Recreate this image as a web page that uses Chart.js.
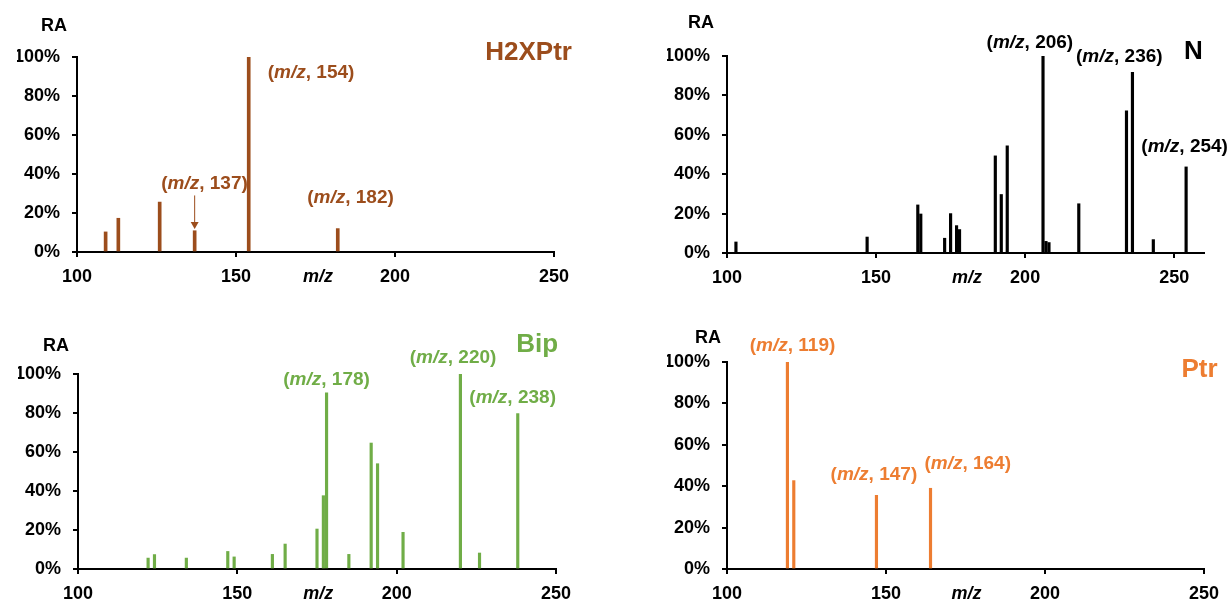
<!DOCTYPE html>
<html>
<head>
<meta charset="utf-8">
<script src="https://cdn.jsdelivr.net/npm/chart.js@4.4.1/dist/chart.umd.min.js"></script>
<style>
  html, body { margin: 0; background: #fff; }
  #wrap { position: relative; width: 1228px; height: 602px; }
  canvas { position: absolute; left: 0; top: 0; }
</style>
</head>
<body>
<div id="wrap">
  <canvas id="c1" width="1228" height="602"></canvas>
  <canvas id="c2" width="1228" height="602"></canvas>
  <canvas id="c3" width="1228" height="602"></canvas>
  <canvas id="c4" width="1228" height="602"></canvas>
</div>
<script>
// spectra (m/z, relative abundance %)
const h2xMz = [109, 113, 126, 137, 154, 182];
const h2xRA = [10.3, 17.3, 25.6, 10.9, 100, 12.0];

const nMz = [103, 147, 164, 165, 173, 175, 177, 178, 190, 192, 194, 206, 207, 208, 218, 234, 236, 243, 254];
const nRA = [5.6, 8.1, 24.4, 19.8, 7.5, 20.0, 13.9, 11.9, 49.3, 29.7, 54.4, 100, 5.9, 5.3, 25.0, 72.2, 91.7, 6.8, 43.7];

const bipMz = [122, 124, 134, 147, 149, 161, 165, 175, 177, 178, 185, 192, 194, 202, 220, 226, 238];
const bipRA = [5.6, 7.4, 5.6, 9.0, 6.2, 7.5, 12.8, 20.5, 37.6, 90.4, 7.5, 64.6, 54.0, 18.8, 100, 8.2, 79.7];

const ptrMz = [119, 121, 147, 164];
const ptrRA = [100, 42.7, 35.6, 39.0];

const raTicks = [0, 20, 40, 60, 80, 100];
const mzTicks = [100, 150, 200, 250];

const FONT = '"Liberation Sans", Arial, sans-serif';
const BROWN = '#9C4D1C';
const GREEN = '#70AD47';
const ORANGE = '#ED7D31';

// layout of each panel: plot box in px, text spots in data units
const panels = [
  { id: 'c1', mz: h2xMz, ra: h2xRA, color: BROWN, xMax: 250, barW: 3,
    area: { l: 77, r: 554, t: 57, b: 252 },
    title: { text: 'H2XPtr', x: 242, y: 102 },
    peaks: [{ mz: 154, x: 173.6, y: 92 }, { mz: 137, x: 140.1, y: 35 }, { mz: 182, x: 186, y: 27.8 }],
    arrow: { mz: 137, from: 29, to: 11.8 },
    raPos: [-23, -31], mzAt: 175.8 },
  { id: 'c2', mz: nMz, ra: nRA, color: '#000', xMax: 260, barW: 2.5,
    area: { l: 727, r: 1204, t: 56, b: 253 },
    title: { text: 'N', x: 256.4, y: 102 },
    peaks: [{ mz: 206, x: 201.6, y: 106.8 }, { mz: 236, x: 231.6, y: 99.6 }, { mz: 254, x: 253.5, y: 53.9 }],
    raPos: [-26, -33], mzAt: 180.5 },
  { id: 'c3', mz: bipMz, ra: bipRA, color: GREEN, xMax: 250, barW: 2.5,
    area: { l: 78, r: 556, t: 374, b: 569 },
    title: { text: 'Bip', x: 244.1, y: 115 },
    peaks: [{ mz: 178, x: 178, y: 97.1 }, { mz: 220, x: 217.7, y: 108.2 }, { mz: 238, x: 236.4, y: 87.7 }],
    raPos: [-22, -27.6], mzAt: 175.4 },
  { id: 'c4', mz: ptrMz, ra: ptrRA, color: ORANGE, xMax: 250, barW: 2.5,
    area: { l: 727, r: 1205, t: 362, b: 569 },
    title: { text: 'Ptr', x: 248.6, y: 96.3 },
    peaks: [{ mz: 119, x: 120.6, y: 108 }, { mz: 147, x: 146.2, y: 45.4 }, { mz: 164, x: 175.7, y: 50.6 }],
    raPos: [-19, -24.4], mzAt: 175.3 }
];

function peakLabel(ctx, mz, cx, cy, color) {
  const parts = [['(', 'bold'], ['m/z', 'italic bold'], [', ' + mz + ')', 'bold']];
  let w = 0;
  parts.forEach(p => { ctx.font = p[1] + ' 19px ' + FONT; w += ctx.measureText(p[0]).width; });
  let x = cx - w / 2;
  ctx.fillStyle = color;
  ctx.textAlign = 'left';
  parts.forEach(p => {
    ctx.font = p[1] + ' 19px ' + FONT;
    ctx.fillText(p[0], x, cy);
    x += ctx.measureText(p[0]).width;
  });
}

function textPlugin(cfg) {
  return {
    id: 'spectrumText',
    afterDraw(chart) {
      const { ctx, chartArea: a } = chart;
      const x = chart.scales.x, y = chart.scales.y;
      ctx.save();
      ctx.textBaseline = 'middle';
      ctx.textAlign = 'center';
      ctx.fillStyle = '#000';
      ctx.font = 'bold 18px ' + FONT;
      ctx.fillText('RA', a.left + cfg.raPos[0], a.top + cfg.raPos[1]);
      ctx.font = 'italic bold 18px ' + FONT;
      ctx.fillText('m/z', x.getPixelForValue(cfg.mzAt), a.bottom + 25);
      ctx.font = 'bold 26px ' + FONT;
      ctx.fillStyle = cfg.color;
      ctx.fillText(cfg.title.text, x.getPixelForValue(cfg.title.x), y.getPixelForValue(cfg.title.y));
      cfg.peaks.forEach(p => peakLabel(ctx, p.mz, x.getPixelForValue(p.x), y.getPixelForValue(p.y), cfg.color));
      if (cfg.arrow) {
        const ax = x.getPixelForValue(cfg.arrow.mz);
        const y0 = y.getPixelForValue(cfg.arrow.from);
        const y1 = y.getPixelForValue(cfg.arrow.to);
        ctx.strokeStyle = cfg.color;
        ctx.lineWidth = 1;
        ctx.beginPath();
        ctx.moveTo(ax, y0);
        ctx.lineTo(ax, y1 - 6);
        ctx.stroke();
        ctx.beginPath();
        ctx.moveTo(ax - 4, y1 - 7);
        ctx.lineTo(ax + 4, y1 - 7);
        ctx.lineTo(ax, y1);
        ctx.closePath();
        ctx.fill();
      }
      ctx.restore();
    }
  };
}

const axisGrid = { drawOnChartArea: false, drawTicks: true, tickLength: 5, color: '#000', lineWidth: 2, offset: false };
const tickFont = { family: FONT, size: 18, weight: 'bold' };

panels.forEach(p => {
  const pts = p.mz.map((m, i) => ({ x: m, y: p.ra[i] }));
  new Chart(document.getElementById(p.id), {
    type: 'bar',
    data: {
      datasets: [{
        data: pts,
        backgroundColor: p.color,
        borderWidth: 0,
        barThickness: p.barW
      }]
    },
    options: {
      responsive: false,
      animation: false,
      events: [],
      layout: {
        padding: { left: p.area.l - 60, right: 1228 - p.area.r, top: p.area.t, bottom: 602 - p.area.b - 40 }
      },
      plugins: { legend: { display: false }, tooltip: { enabled: false } },
      scales: {
        x: {
          type: 'linear',
          min: 100,
          max: p.xMax,
          offset: false,
          grid: axisGrid,
          border: { color: '#000', width: 2 },
          afterBuildTicks: s => { s.ticks = mzTicks.map(v => ({ value: v })); },
          afterFit: s => { s.height = 40; },
          ticks: { color: '#000', font: tickFont, padding: 9, maxRotation: 0 }
        },
        y: {
          min: 0,
          max: 100,
          grid: axisGrid,
          border: { color: '#000', width: 2 },
          afterBuildTicks: s => { s.ticks = raTicks.map(v => ({ value: v })); },
          afterFit: s => { s.width = 60; },
          ticks: { color: '#000', font: tickFont, padding: 12, callback: v => v + '%' }
        }
      }
    },
    plugins: [textPlugin(p)]
  });
});
</script>
</body>
</html>
